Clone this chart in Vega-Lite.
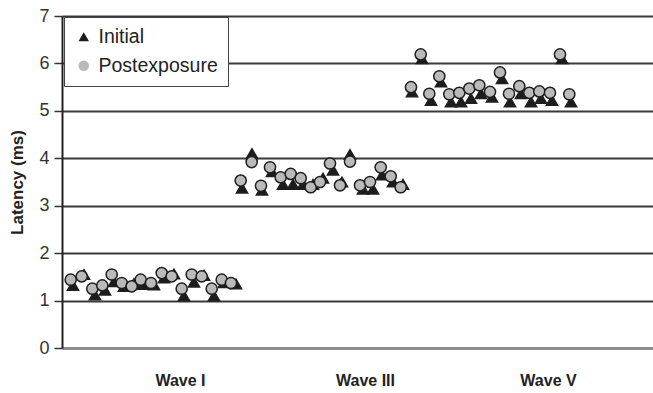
{
  "$schema": "https://vega.github.io/schema/vega-lite/v6.json",
  "width": 591,
  "height": 332,
  "autosize": {"type": "none"},
  "padding": {"left": 62, "top": 16, "right": 0, "bottom": 45},
  "background": "white",
  "config": {
    "view": {"stroke": null},
    "font": "Liberation Sans",
    "legend": {
      "fillColor": "white",
      "strokeColor": "#444",
      "padding": 10,
      "labelFont": "Liberation Sans",
      "labelFontSize": 19.5,
      "labelColor": "#222",
      "symbolSize": 110,
      "rowPadding": 8,
      "labelOffset": 5,
      "symbolStrokeColor": "#2a2a2a",
      "symbolStrokeWidth": 1.3
    }
  },
  "data": {
    "values": [
      {"x": 1.1, "series": "Initial", "latency": 1.32},
      {"x": 2.2, "series": "Initial", "latency": 1.55},
      {"x": 3.3, "series": "Initial", "latency": 1.12},
      {"x": 4.3, "series": "Initial", "latency": 1.22},
      {"x": 5.2, "series": "Initial", "latency": 1.40},
      {"x": 6.2, "series": "Initial", "latency": 1.30},
      {"x": 7.2, "series": "Initial", "latency": 1.36},
      {"x": 8.1, "series": "Initial", "latency": 1.34},
      {"x": 9.2, "series": "Initial", "latency": 1.33},
      {"x": 10.2, "series": "Initial", "latency": 1.48},
      {"x": 11.2, "series": "Initial", "latency": 1.56},
      {"x": 12.2, "series": "Initial", "latency": 1.10},
      {"x": 13.2, "series": "Initial", "latency": 1.39},
      {"x": 14.2, "series": "Initial", "latency": 1.53},
      {"x": 15.2, "series": "Initial", "latency": 1.10},
      {"x": 16.2, "series": "Initial", "latency": 1.38},
      {"x": 17.4, "series": "Initial", "latency": 1.35},
      {"x": 18.0, "series": "Initial", "latency": 3.37},
      {"x": 19.0, "series": "Initial", "latency": 4.10},
      {"x": 20.0, "series": "Initial", "latency": 3.33},
      {"x": 21.0, "series": "Initial", "latency": 3.72},
      {"x": 22.1, "series": "Initial", "latency": 3.45},
      {"x": 23.1, "series": "Initial", "latency": 3.45},
      {"x": 24.1, "series": "Initial", "latency": 3.45},
      {"x": 25.1, "series": "Initial", "latency": 3.45},
      {"x": 26.1, "series": "Initial", "latency": 3.58},
      {"x": 27.1, "series": "Initial", "latency": 3.75},
      {"x": 28.0, "series": "Initial", "latency": 3.50},
      {"x": 28.8, "series": "Initial", "latency": 4.08},
      {"x": 30.1, "series": "Initial", "latency": 3.35},
      {"x": 31.1, "series": "Initial", "latency": 3.35},
      {"x": 32.0, "series": "Initial", "latency": 3.65},
      {"x": 33.1, "series": "Initial", "latency": 3.50},
      {"x": 34.1, "series": "Initial", "latency": 3.45},
      {"x": 35.0, "series": "Initial", "latency": 5.40},
      {"x": 36.0, "series": "Initial", "latency": 6.10},
      {"x": 36.9, "series": "Initial", "latency": 5.22},
      {"x": 37.9, "series": "Initial", "latency": 5.61},
      {"x": 38.9, "series": "Initial", "latency": 5.19},
      {"x": 39.9, "series": "Initial", "latency": 5.19},
      {"x": 40.9, "series": "Initial", "latency": 5.26},
      {"x": 41.9, "series": "Initial", "latency": 5.36},
      {"x": 43.0, "series": "Initial", "latency": 5.29},
      {"x": 44.0, "series": "Initial", "latency": 5.68},
      {"x": 44.8, "series": "Initial", "latency": 5.19},
      {"x": 45.9, "series": "Initial", "latency": 5.36},
      {"x": 46.9, "series": "Initial", "latency": 5.19},
      {"x": 47.9, "series": "Initial", "latency": 5.26},
      {"x": 49.0, "series": "Initial", "latency": 5.22},
      {"x": 50.0, "series": "Initial", "latency": 6.10},
      {"x": 50.9, "series": "Initial", "latency": 5.19},
      {"x": 0.87, "series": "Postexposure", "latency": 1.44},
      {"x": 1.97, "series": "Postexposure", "latency": 1.51},
      {"x": 3.03, "series": "Postexposure", "latency": 1.25},
      {"x": 4.03, "series": "Postexposure", "latency": 1.32},
      {"x": 4.97, "series": "Postexposure", "latency": 1.55},
      {"x": 5.97, "series": "Postexposure", "latency": 1.37},
      {"x": 6.97, "series": "Postexposure", "latency": 1.30},
      {"x": 7.87, "series": "Postexposure", "latency": 1.44},
      {"x": 8.9, "series": "Postexposure", "latency": 1.37},
      {"x": 9.97, "series": "Postexposure", "latency": 1.58},
      {"x": 10.97, "series": "Postexposure", "latency": 1.51},
      {"x": 11.97, "series": "Postexposure", "latency": 1.25},
      {"x": 12.97, "series": "Postexposure", "latency": 1.55},
      {"x": 13.97, "series": "Postexposure", "latency": 1.51},
      {"x": 14.97, "series": "Postexposure", "latency": 1.25},
      {"x": 15.97, "series": "Postexposure", "latency": 1.44},
      {"x": 16.9, "series": "Postexposure", "latency": 1.37},
      {"x": 17.87, "series": "Postexposure", "latency": 3.53},
      {"x": 18.97, "series": "Postexposure", "latency": 3.92},
      {"x": 19.9, "series": "Postexposure", "latency": 3.42},
      {"x": 20.8, "series": "Postexposure", "latency": 3.81},
      {"x": 21.87, "series": "Postexposure", "latency": 3.60},
      {"x": 22.87, "series": "Postexposure", "latency": 3.67},
      {"x": 23.87, "series": "Postexposure", "latency": 3.58},
      {"x": 24.87, "series": "Postexposure", "latency": 3.39},
      {"x": 25.8, "series": "Postexposure", "latency": 3.50},
      {"x": 26.8, "series": "Postexposure", "latency": 3.89},
      {"x": 27.8, "series": "Postexposure", "latency": 3.43},
      {"x": 28.8, "series": "Postexposure", "latency": 3.93},
      {"x": 29.8, "series": "Postexposure", "latency": 3.43},
      {"x": 30.8, "series": "Postexposure", "latency": 3.50},
      {"x": 31.87, "series": "Postexposure", "latency": 3.81},
      {"x": 32.87, "series": "Postexposure", "latency": 3.62},
      {"x": 33.87, "series": "Postexposure", "latency": 3.39},
      {"x": 34.9, "series": "Postexposure", "latency": 5.50},
      {"x": 35.87, "series": "Postexposure", "latency": 6.19},
      {"x": 36.73, "series": "Postexposure", "latency": 5.36},
      {"x": 37.73, "series": "Postexposure", "latency": 5.73},
      {"x": 38.73, "series": "Postexposure", "latency": 5.35},
      {"x": 39.73, "series": "Postexposure", "latency": 5.38},
      {"x": 40.73, "series": "Postexposure", "latency": 5.47},
      {"x": 41.73, "series": "Postexposure", "latency": 5.54},
      {"x": 42.8, "series": "Postexposure", "latency": 5.40},
      {"x": 43.8, "series": "Postexposure", "latency": 5.81},
      {"x": 44.7, "series": "Postexposure", "latency": 5.36},
      {"x": 45.73, "series": "Postexposure", "latency": 5.52},
      {"x": 46.73, "series": "Postexposure", "latency": 5.38},
      {"x": 47.73, "series": "Postexposure", "latency": 5.41},
      {"x": 48.8, "series": "Postexposure", "latency": 5.38},
      {"x": 49.8, "series": "Postexposure", "latency": 6.19},
      {"x": 50.73, "series": "Postexposure", "latency": 5.35}
    ]
  },
  "mark": {"type": "point", "filled": true, "opacity": 1, "strokeWidth": 1.5, "size": 125},
  "encoding": {
    "x": {
      "field": "x",
      "type": "quantitative",
      "scale": {"domain": [0, 59.1], "nice": false, "zero": false},
      "axis": {
        "title": null,
        "grid": false,
        "ticks": false,
        "domain": true,
        "domainColor": "#8a8a8a",
        "domainWidth": 2.5,
        "values": [11.8, 30.3, 48.6],
        "labelExpr": "datum.value < 20 ? 'Wave I' : (datum.value < 40 ? 'Wave III' : 'Wave V')",
        "labelFont": "Liberation Sans",
        "labelFontWeight": "bold",
        "labelFontSize": 16,
        "labelColor": "#222",
        "labelPadding": 24,
        "labelFlush": false
      }
    },
    "y": {
      "field": "latency",
      "type": "quantitative",
      "scale": {"domain": [0, 7], "nice": false},
      "axis": {
        "title": "Latency (ms)",
        "titleFont": "Liberation Sans",
        "titleFontWeight": "bold",
        "titleFontSize": 17,
        "titleColor": "#222",
        "titlePadding": 12,
        "values": [0, 1, 2, 3, 4, 5, 6, 7],
        "format": "d",
        "labelFont": "Liberation Sans",
        "labelFontSize": 18,
        "labelColor": "#333",
        "labelPadding": 5,
        "tickSize": 8,
        "tickColor": "#333",
        "tickWidth": 1.5,
        "domainColor": "#222",
        "domainWidth": 2,
        "grid": true,
        "gridColor": "#3a3a3a",
        "gridWidth": 1.8
      }
    },
    "stroke": {"value": "#1f1f1f"},
    "shape": {
      "field": "series",
      "type": "nominal",
      "scale": {"domain": ["Initial", "Postexposure"], "range": ["triangle-up", "circle"]},
      "legend": {"title": null, "orient": "none", "legendX": 2, "legendY": 1}
    },
    "fill": {
      "field": "series",
      "type": "nominal",
      "scale": {"domain": ["Initial", "Postexposure"], "range": ["#1c1c1c", "#bababa"]},
      "legend": {"title": null, "orient": "none", "legendX": 2, "legendY": 1}
    }
  }
}
